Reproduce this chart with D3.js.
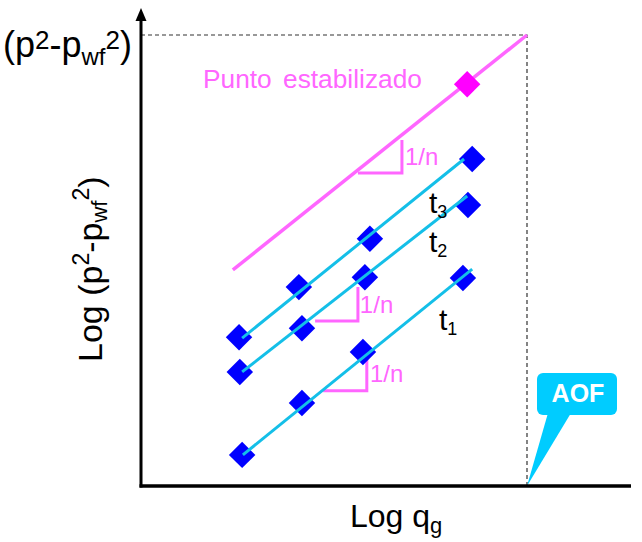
<!DOCTYPE html>
<html>
<head>
<meta charset="utf-8">
<script src="https://cdn.jsdelivr.net/npm/d3@7"></script>
<style>
  html, body { margin: 0; padding: 0; background: #fff; }
  svg { display: block; font-family: "Liberation Sans", Arial, sans-serif; }
</style>
</head>
<body>
<svg id="chart" width="642" height="542"></svg>
<script>
// ---- data (schematic units: 0..10 on both log axes) ----
const xDomain = [0, 10];          // Log qg  (10 = AOF)
const yDomain = [0, 10];          // Log (p2 - pwf2) (10 = pwf = 0)

const seriesNames = ["t1", "t2", "t3"];
const t1Points = [[2.62, 0.69], [4.17, 1.84], [5.75, 2.97], [8.34, 4.61]];
const t2Points = [[2.56, 2.53], [4.17, 3.50], [5.80, 4.63], [8.47, 6.23]];
const t3Points = [[2.54, 3.30], [4.09, 4.41], [5.93, 5.48], [8.58, 7.25]];

const t1Line = [[2.64, 0.69], [8.58, 4.81]];
const t2Line = [[2.62, 2.53], [8.45, 6.43]];
const t3Line = [[2.62, 3.28], [8.37, 7.25]];

const stabilizedLine = [[2.38, 4.79], [10, 10]];
const stabilizedPoint = [[8.45, 8.91]];

// slope triangles: [corner start x, corner x, base y, top y]
const slopeTriangles = [
  [5.62, 6.76, 6.94, 7.67],
  [4.51, 5.62, 3.66, 4.41],
  [4.72, 5.85, 2.11, 2.86]
];
const slopeLabels = [[6.84, 7.12], [5.67, 3.84], [5.93, 2.31]];
const seriesLabelPos = [[7.72, 3.45], [7.46, 5.18], [7.46, 6.06]];

// ---- drawing ----
const svg = d3.select("#chart");
const x = d3.scaleLinear().domain(xDomain).range([141, 527]);
const y = d3.scaleLinear().domain(yDomain).range([486, 35]);

const PINK = "#ff66ff", CYAN = "#14bfe8", BLUE = "#0000ff";

// dashed guides
svg.append("path")
  .attr("d", `M${x(0)},${y(10)}H${x(10)}V${y(0)}`)
  .attr("fill", "none").attr("stroke", "#333").attr("stroke-width", 1.2)
  .attr("stroke-dasharray", "4,3");

// AOF callout
svg.append("path")
  .attr("d", `M${x(10)},${y(0)}L548,413L571,413Z`)
  .attr("fill", "#00ccff");
svg.append("rect").attr("x", 537).attr("y", 373).attr("width", 80).attr("height", 42)
  .attr("rx", 6).attr("fill", "#00ccff");
svg.append("text").attr("x", 578).attr("y", 402).attr("text-anchor", "middle")
  .attr("font-size", 25).attr("font-weight", "bold").attr("fill", "#fff").text("AOF");

// axes
svg.append("line").attr("x1", x(0)).attr("y1", y(0) + 1.5).attr("x2", x(0)).attr("y2", 18)
  .attr("stroke", "#000").attr("stroke-width", 3);
svg.append("path").attr("d", `M${x(0)},8L${x(0) - 5.5},21L${x(0) + 5.5},21Z`).attr("fill", "#000");
svg.append("line").attr("x1", x(0) - 1.5).attr("y1", y(0)).attr("x2", 631).attr("y2", y(0))
  .attr("stroke", "#000").attr("stroke-width", 3.5);

const line = d3.line().x(d => x(d[0])).y(d => y(d[1]));

// stabilized line
svg.append("path").attr("d", line(stabilizedLine)).attr("fill", "none")
  .attr("stroke", PINK).attr("stroke-width", 3.5);

// slope triangles
svg.selectAll("path.tri").data(slopeTriangles).join("path").attr("class", "tri")
  .attr("d", d => `M${x(d[0])},${y(d[2])}H${x(d[1])}V${y(d[3])}`)
  .attr("fill", "none").attr("stroke", PINK).attr("stroke-width", 3);
svg.selectAll("text.slope").data(slopeLabels).join("text").attr("class", "slope")
  .attr("x", d => x(d[0])).attr("y", d => y(d[1]))
  .attr("font-size", 24).attr("fill", PINK).text("1/n");

// fit lines
const fitLines = [t1Line, t2Line, t3Line];

// points
const diamond = d3.symbol().type(d3.symbolSquare).size(350);
const allPoints = [...t1Points, ...t2Points, ...t3Points];
svg.selectAll("path.pt").data(allPoints).join("path").attr("class", "pt")
  .attr("d", diamond)
  .attr("transform", d => `translate(${x(d[0])},${y(d[1])}) rotate(45)`)
  .attr("fill", BLUE);

// fit lines drawn over the diamonds
svg.selectAll("path.fit").data(fitLines).join("path").attr("class", "fit")
  .attr("d", d => line(d)).attr("fill", "none").attr("stroke", CYAN).attr("stroke-width", 3);

svg.selectAll("path.sp").data(stabilizedPoint).join("path").attr("class", "sp")
  .attr("d", diamond)
  .attr("transform", d => `translate(${x(d[0])},${y(d[1])}) rotate(45)`)
  .attr("fill", "#ff00ff");

// series labels t1, t2, t3
const tl = svg.selectAll("text.tl").data(seriesNames).join("text").attr("class", "tl")
  .attr("x", (d, i) => x(seriesLabelPos[i][0])).attr("y", (d, i) => y(seriesLabelPos[i][1]))
  .attr("font-size", 30).attr("fill", "#000");
tl.append("tspan").text("t");
tl.append("tspan").attr("font-size", 18).attr("dy", 5).text(d => d.slice(1));

// Punto estabilizado
svg.append("text").attr("x", 203).attr("y", 88).attr("font-size", 26.3).attr("fill", PINK)
  .attr("word-spacing", 4).text("Punto estabilizado");

// top-left label (p2-pwf2)
const tlab = svg.append("text").attr("x", 3).attr("y", 57).attr("font-size", 36).attr("fill", "#000");
tlab.append("tspan").text("(p");
tlab.append("tspan").attr("font-size", 26).attr("dy", -8).text("2");
tlab.append("tspan").attr("dy", 8).text("-p");
tlab.append("tspan").attr("font-size", 24).attr("dy", 8).text("wf");
tlab.append("tspan").attr("font-size", 26).attr("dy", -16).text("2");
tlab.append("tspan").attr("dy", 8).text(")");

// y axis title
const ylab = svg.append("text").attr("transform", "translate(102,362) rotate(-90)")
  .attr("font-size", 34).attr("fill", "#000");
ylab.append("tspan").text("Log (p");
ylab.append("tspan").attr("font-size", 23).attr("dy", -13).text("2");
ylab.append("tspan").attr("dy", 13).text("-p");
ylab.append("tspan").attr("font-size", 22).attr("dy", 5).text("wf");
ylab.append("tspan").attr("font-size", 23).attr("dy", -18).text("2");
ylab.append("tspan").attr("dy", 13).text(")");

// x axis title
const xlab = svg.append("text").attr("x", 350).attr("y", 527).attr("font-size", 32).attr("fill", "#000");
xlab.append("tspan").text("Log q");
xlab.append("tspan").attr("font-size", 22).attr("dy", 6).text("g");
</script>
</body>
</html>
